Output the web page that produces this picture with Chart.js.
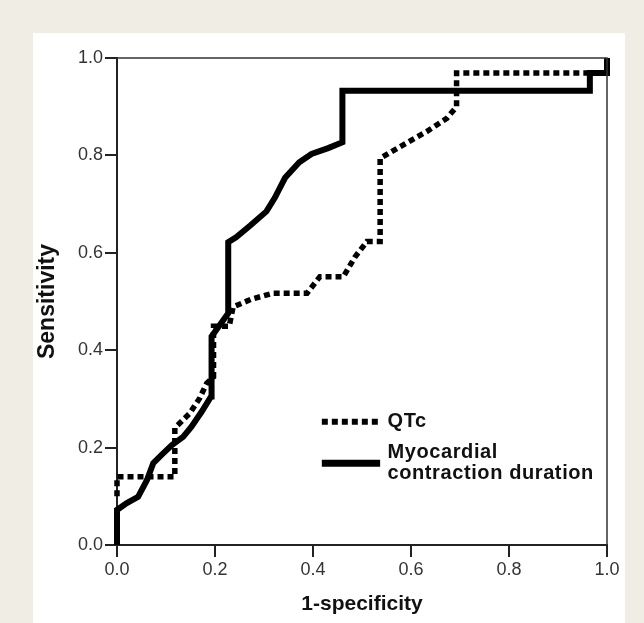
<!DOCTYPE html>
<html>
<head>
<meta charset="utf-8">
<script src="https://cdn.jsdelivr.net/npm/chart.js@4/dist/chart.umd.min.js"></script>
<style>
  body { margin: 0; background: #efede4; width: 644px; height: 623px; overflow: hidden; }
  .panel { position: absolute; left: 33px; top: 33px; width: 592px; height: 590px; background: #fff; }
</style>
</head>
<body>
<div class="panel"><canvas id="roc" width="592" height="590"></canvas></div>
<script>
// ROC curves: x = 1-specificity, y = sensitivity
const qtcX = [0, 0, 0.118, 0.118, 0.149, 0.169, 0.183, 0.197, 0.197, 0.229, 0.237, 0.275, 0.318, 0.388, 0.414, 0.462, 0.486, 0.51, 0.537, 0.537, 0.578, 0.632, 0.673, 0.693, 0.693, 1.0, 1.0];
const qtcY = [0.1, 0.14, 0.14, 0.24, 0.271, 0.302, 0.332, 0.345, 0.449, 0.449, 0.489, 0.505, 0.517, 0.517, 0.551, 0.551, 0.592, 0.623, 0.623, 0.794, 0.818, 0.849, 0.876, 0.9, 0.969, 0.969, 1.0];

const mcdX = [0, 0, 0.02, 0.043, 0.061, 0.074, 0.091, 0.112, 0.135, 0.152, 0.173, 0.192, 0.193, 0.227, 0.227, 0.243, 0.272, 0.305, 0.322, 0.343, 0.372, 0.397, 0.431, 0.46, 0.46, 0.965, 0.965, 1.0, 1.0];
const mcdY = [0, 0.072, 0.086, 0.099, 0.133, 0.168, 0.185, 0.205, 0.222, 0.243, 0.274, 0.305, 0.428, 0.476, 0.622, 0.632, 0.656, 0.685, 0.713, 0.754, 0.786, 0.803, 0.815, 0.827, 0.933, 0.933, 0.969, 0.969, 1.0];

const xTicks = [0, 0.2, 0.4, 0.6, 0.8, 1.0];
const yTicks = [0, 0.2, 0.4, 0.6, 0.8, 1.0];

const legendItems = [
  { lines: ['QTc'], dash: [6, 4], width: 6 },
  { lines: ['Myocardial', 'contraction duration'], dash: [], width: 7 }
];

const fontFamily = "'Liberation Sans', Arial, sans-serif";

function toPoints (xs, ys) {
  return xs.map((x, i) => ({ x: x, y: ys[i] }));
}

// thin frame on top and right of the plot
const framePlugin = {
  id: 'frame',
  afterDraw (chart) {
    const a = chart.chartArea;
    const c = chart.ctx;
    c.save();
    c.strokeStyle = '#333';
    c.lineWidth = 1.5;
    c.beginPath();
    c.moveTo(a.left, a.top);
    c.lineTo(a.right, a.top);
    c.lineTo(a.right, a.bottom);
    c.stroke();
    c.restore();
  }
};

// legend placed inside the plot, lower right
const legendPlugin = {
  id: 'insideLegend',
  afterDatasetsDraw (chart) {
    const a = chart.chartArea;
    const c = chart.ctx;
    const w = a.right - a.left;
    const h = a.bottom - a.top;
    const x0 = a.left + w * 0.418;
    const x1 = a.left + w * 0.537;
    const tx = a.left + w * 0.552;
    const rows = [0.747, 0.832];
    c.save();
    c.font = 'bold 20px ' + fontFamily;
    c.letterSpacing = '0.6px';
    c.fillStyle = '#111';
    c.textBaseline = 'middle';
    legendItems.forEach((item, i) => {
      const y = a.top + h * rows[i];
      c.strokeStyle = '#000';
      c.lineWidth = item.width;
      c.setLineDash(item.dash);
      c.beginPath();
      c.moveTo(x0, y);
      c.lineTo(x1, y);
      c.stroke();
      const lh = 21;
      const start = y - (item.lines.length - 1) * lh / 2;
      item.lines.forEach((t, j) => c.fillText(t, tx, start + j * lh));
    });
    c.restore();
  }
};

function axis (title, ticks, fit, titleSize, titlePad) {
  return {
    type: 'linear',
    min: 0,
    max: 1,
    afterBuildTicks (scale) {
      scale.ticks = ticks.map(v => ({ value: v }));
    },
    afterFit: fit,
    ticks: {
      callback: v => v.toFixed(1),
      color: '#333',
      padding: 2,
      font: { family: fontFamily, size: 18 }
    },
    grid: {
      drawOnChartArea: false,
      drawTicks: true,
      tickLength: 12,
      color: '#222',
      lineWidth: 2
    },
    border: { display: true, color: '#222', width: 2 },
    title: {
      display: true,
      text: title,
      color: '#111',
      padding: titlePad,
      font: { family: fontFamily, size: titleSize, weight: 'bold' }
    }
  };
}

new Chart(document.getElementById('roc'), {
  type: 'scatter',
  data: {
    datasets: [
      {
        label: 'Myocardial contraction duration',
        data: toPoints(mcdX, mcdY),
        showLine: true,
        borderColor: '#000',
        borderWidth: 6,
        pointRadius: 0,
        tension: 0,
        clip: false
      },
      {
        label: 'QTc',
        data: toPoints(qtcX, qtcY),
        showLine: true,
        borderColor: '#000',
        borderWidth: 5.5,
        borderDash: [6, 4],
        borderCapStyle: 'butt',
        pointRadius: 0,
        tension: 0,
        clip: false
      }
    ]
  },
  options: {
    responsive: false,
    animation: false,
    layout: { padding: { top: 25, right: 18, left: 0, bottom: 0 } },
    plugins: {
      legend: { display: false },
      tooltip: { enabled: false }
    },
    scales: {
      x: axis('1-specificity', xTicks, s => { s.height = 78; }, 21, { top: 0, bottom: 6 }),
      y: axis('Sensitivity', yTicks, s => { s.width = 84; }, 23, { top: 1, bottom: 0 })
    }
  },
  plugins: [framePlugin, legendPlugin]
});
</script>
</body>
</html>
